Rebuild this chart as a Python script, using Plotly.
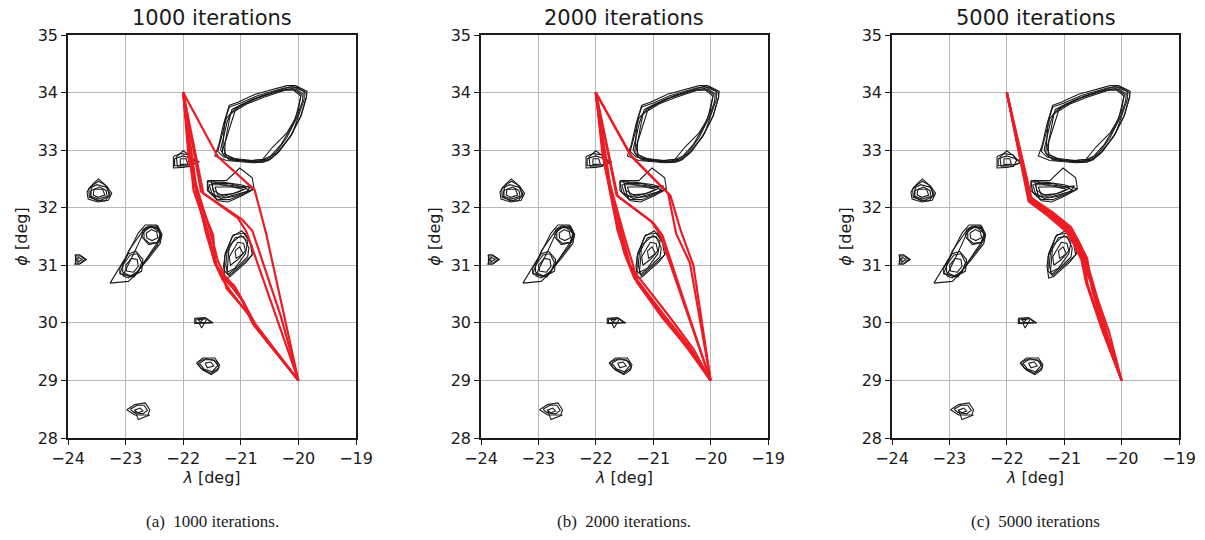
import plotly.graph_objects as go

# ---------------- data ----------------
panel_titles = ["1000 iterations", "2000 iterations", "5000 iterations"]
captions = ["(a)  1000 iterations.", "(b)  2000 iterations.", "(c)  5000 iterations"]
x_ticks = [-24, -23, -22, -21, -20, -19]
y_ticks = [28, 29, 30, 31, 32, 33, 34, 35]

# obstacle contours (lambda, phi); each obstacle has several contour loops
obs_big = [
    [(-21.15,33.71),(-20.97,33.80),(-20.65,33.94),(-20.13,34.10),(-20.02,34.09),(-19.87,34.00),(-19.86,33.92),(-19.96,33.59),(-20.13,33.25),(-20.36,32.96),(-20.54,32.81),(-20.77,32.79),(-21.18,32.84),(-21.29,32.90),(-21.35,33.01),(-21.29,33.25),(-21.24,33.48),(-21.15,33.71)],
    [(-21.10,33.68),(-20.90,33.80),(-20.60,33.92),(-20.18,34.06),(-20.05,34.06),(-19.92,33.98),(-19.93,33.85),(-20.02,33.58),(-20.20,33.22),(-20.40,32.95),(-20.56,32.84),(-20.80,32.82),(-21.15,32.86),(-21.26,32.92),(-21.30,33.05),(-21.22,33.30),(-21.10,33.68)],
    [(-21.20,33.75),(-21.00,33.82),(-20.70,33.95),(-20.25,34.08),(-20.10,34.10),(-19.90,34.02),(-19.90,33.88),(-19.99,33.62),(-20.10,33.30),(-20.33,32.98),(-20.50,32.83),(-20.75,32.80),(-21.20,32.83),(-21.32,32.95),(-21.30,33.20),(-21.28,33.50),(-21.20,33.75)],
    [(-21.20,33.78),(-21.05,33.83),(-20.75,33.97),(-20.20,34.12),(-20.05,34.12),(-19.85,34.02),(-19.86,33.93),(-19.95,33.60),(-20.15,33.22),(-20.38,32.93),(-20.60,32.79),(-20.80,32.78),(-21.25,32.82),(-21.45,32.90),(-21.38,33.10),(-21.30,33.45),(-21.20,33.78)],
    [(-21.25,33.55),(-21.10,33.72),(-20.80,33.88),(-20.40,34.02),(-20.10,34.07),(-19.95,33.97),(-20.05,33.55),(-20.20,33.30),(-20.45,33.05),(-20.62,32.84),(-20.90,32.81),(-21.30,32.88),(-21.40,32.98),(-21.25,33.55)],
    [(-21.18,33.62),(-21.02,33.76),(-20.72,33.90),(-20.30,34.04),(-20.08,34.04),(-19.96,33.94),(-20.00,33.70),(-20.12,33.40),(-20.30,33.10),(-20.48,32.90),(-20.70,32.80),(-21.05,32.83),(-21.28,32.93),(-21.27,33.15),(-21.18,33.62)],
]
obs_sq = [
    [(-22.17,32.89),(-22.05,32.94),(-21.90,32.92),(-21.83,32.82),(-21.88,32.72),(-22.00,32.70),(-22.17,32.69),(-22.17,32.89)],
    [(-22.12,32.88),(-22.00,32.99),(-21.88,32.90),(-21.77,32.78),(-21.90,32.73),(-22.10,32.72),(-22.12,32.88)],
    [(-22.05,32.85),(-21.95,32.85),(-21.92,32.76),(-22.05,32.75),(-22.05,32.85)],
    [(-22.15,32.85),(-22.00,32.90),(-21.85,32.85),(-21.72,32.80),(-21.85,32.75),(-22.15,32.73),(-22.15,32.85)],
]
obs_hex = [
    [(-23.62,32.36),(-23.47,32.46),(-23.33,32.38),(-23.24,32.25),(-23.30,32.13),(-23.48,32.10),(-23.65,32.15),(-23.67,32.27),(-23.62,32.36)],
    [(-23.58,32.40),(-23.47,32.50),(-23.36,32.40),(-23.27,32.24),(-23.35,32.12),(-23.50,32.12),(-23.62,32.20),(-23.58,32.40)],
    [(-23.55,32.32),(-23.40,32.32),(-23.36,32.22),(-23.48,32.18),(-23.56,32.22),(-23.55,32.32)],
    [(-23.64,32.33),(-23.50,32.40),(-23.32,32.35),(-23.28,32.20),(-23.45,32.12),(-23.63,32.18),(-23.64,32.33)],
    [(-23.60,32.30),(-23.45,32.36),(-23.34,32.30),(-23.32,32.20),(-23.47,32.15),(-23.60,32.20),(-23.60,32.30)],
]
obs_wedge = [
    [(-21.58,32.45),(-21.30,32.44),(-21.00,32.40),(-20.78,32.33),(-20.95,32.24),(-21.20,32.14),(-21.40,32.14),(-21.55,32.28),(-21.58,32.45)],
    [(-21.55,32.40),(-21.25,32.40),(-20.95,32.36),(-20.85,32.30),(-21.10,32.20),(-21.35,32.16),(-21.50,32.25),(-21.55,32.40)],
    [(-21.45,32.36),(-21.15,32.36),(-20.95,32.32),(-21.15,32.24),(-21.40,32.22),(-21.45,32.36)],
    [(-21.52,32.48),(-21.35,32.40),(-21.05,32.35),(-20.82,32.38),(-20.90,32.28),(-21.25,32.18),(-21.45,32.20),(-21.52,32.48)],
    [(-21.58,32.47),(-21.25,32.47),(-21.02,32.69),(-20.80,32.52),(-20.77,32.32),(-21.00,32.20),(-21.22,32.10),(-21.40,32.12),(-21.58,32.30),(-21.58,32.47)],
    [(-21.50,32.42),(-21.20,32.42),(-20.90,32.34),(-21.05,32.27),(-21.30,32.20),(-21.48,32.30),(-21.50,32.42)],
]
obs_long = [
    [(-23.27,30.69),(-22.95,30.72),(-22.87,30.80),(-22.60,31.12),(-22.40,31.38),(-22.37,31.53),(-22.46,31.70),(-22.66,31.70),(-22.78,31.56),(-22.99,31.15),(-23.27,30.69)],
    [(-22.68,31.58),(-22.58,31.66),(-22.45,31.64),(-22.39,31.52),(-22.45,31.40),(-22.58,31.38),(-22.68,31.46),(-22.68,31.58)],
    [(-22.64,31.56),(-22.55,31.62),(-22.46,31.58),(-22.44,31.48),(-22.54,31.43),(-22.63,31.47),(-22.64,31.56)],
    [(-22.70,31.62),(-22.60,31.68),(-22.44,31.68),(-22.37,31.54),(-22.42,31.40),(-22.60,31.36),(-22.72,31.50),(-22.70,31.62)],
    [(-23.05,31.00),(-22.92,31.18),(-22.80,31.20),(-22.72,31.05),(-22.78,30.88),(-22.92,30.82),(-23.05,30.88),(-23.05,31.00)],
    [(-23.00,31.00),(-22.90,31.12),(-22.80,31.10),(-22.78,30.98),(-22.86,30.88),(-22.98,30.90),(-23.00,31.00)],
    [(-23.10,30.95),(-22.95,31.20),(-22.82,31.24),(-22.70,31.10),(-22.72,30.90),(-22.90,30.80),(-23.10,30.86),(-23.10,30.95)],
    [(-23.10,30.85),(-22.95,31.25),(-22.70,31.60),(-22.55,31.68),(-22.40,31.56),(-22.45,31.35),(-22.72,31.00),(-22.85,30.80),(-23.10,30.85)],
    [(-23.05,30.82),(-22.85,31.22),(-22.65,31.65),(-22.45,31.66),(-22.38,31.50),(-22.55,31.25),(-22.78,30.90),(-22.95,30.78),(-23.05,30.82)],
]
obs_arrow = [
    [(-23.88,31.18),(-23.80,31.18),(-23.68,31.10),(-23.80,31.02),(-23.88,31.02),(-23.85,31.10),(-23.88,31.18)],
    [(-23.83,31.14),(-23.75,31.10),(-23.83,31.06),(-23.83,31.14)],
    [(-23.87,31.16),(-23.78,31.16),(-23.71,31.10),(-23.78,31.04),(-23.87,31.04),(-23.87,31.16)],
]
obs_kite = [
    [(-21.13,31.53),(-20.93,31.56),(-20.81,31.35),(-20.78,31.21),(-20.90,31.06),(-21.19,30.80),(-21.27,30.78),(-21.30,30.98),(-21.27,31.21),(-21.13,31.53)],
    [(-21.10,31.48),(-20.95,31.50),(-20.86,31.30),(-20.88,31.15),(-21.05,30.98),(-21.22,30.84),(-21.26,31.00),(-21.24,31.22),(-21.10,31.48)],
    [(-21.05,31.40),(-20.95,31.38),(-20.92,31.25),(-21.05,31.10),(-21.18,31.00),(-21.20,31.15),(-21.05,31.40)],
    [(-21.15,31.50),(-20.98,31.60),(-20.84,31.40),(-20.80,31.18),(-21.00,31.00),(-21.20,30.82),(-21.28,30.90),(-21.28,31.15),(-21.15,31.50)],
    [(-21.10,31.25),(-21.02,31.32),(-20.96,31.20),(-21.08,31.12),(-21.10,31.25)],
    [(-21.20,31.35),(-21.00,31.52),(-20.88,31.42),(-20.92,31.20),(-21.10,30.95),(-21.24,30.88),(-21.22,31.10),(-21.20,31.35)],
]
obs_flag = [
    [(-21.80,30.08),(-21.62,30.09),(-21.48,30.00),(-21.80,29.99),(-21.80,30.08)],
    [(-21.72,29.99),(-21.68,29.91),(-21.60,30.05)],
    [(-21.75,30.06),(-21.65,30.06),(-21.70,30.02),(-21.75,30.06)],
    [(-21.78,30.07),(-21.60,30.07),(-21.52,30.01),(-21.78,30.00),(-21.78,30.07)],
]
obs_gem = [
    [(-21.77,29.30),(-21.66,29.39),(-21.45,29.39),(-21.37,29.27),(-21.40,29.18),(-21.51,29.10),(-21.66,29.18),(-21.77,29.30)],
    [(-21.72,29.30),(-21.62,29.36),(-21.47,29.36),(-21.40,29.26),(-21.50,29.15),(-21.64,29.20),(-21.72,29.30)],
    [(-21.62,29.30),(-21.52,29.32),(-21.47,29.25),(-21.58,29.22),(-21.62,29.30)],
    [(-21.75,29.32),(-21.60,29.38),(-21.42,29.33),(-21.38,29.22),(-21.52,29.12),(-21.70,29.22),(-21.75,29.32)],
]
obs_low = [
    [(-22.98,28.49),(-22.84,28.58),(-22.66,28.61),(-22.58,28.49),(-22.61,28.40),(-22.84,28.40),(-22.98,28.49)],
    [(-22.92,28.50),(-22.80,28.57),(-22.68,28.57),(-22.62,28.48),(-22.70,28.42),(-22.85,28.44),(-22.92,28.50)],
    [(-22.85,28.48),(-22.75,28.52),(-22.70,28.47),(-22.78,28.44),(-22.85,28.48)],
    [(-22.84,28.48),(-22.78,28.32),(-22.58,28.40)],
]

# red trajectories, one list per panel
paths_1000 = [
    [(-22,34),(-21.40,32.89),(-20.76,32.31),(-20.56,31.55),(-20.00,29.00)],
    [(-22,34),(-21.69,32.28),(-21.05,31.82),(-20.90,31.58),(-20.00,29.00)],
    [(-22,34),(-21.65,32.25),(-20.98,31.80),(-20.80,31.60),(-20.30,30.10),(-20.00,29.00)],
    [(-22,34),(-21.85,32.60),(-21.60,31.55),(-21.45,31.04),(-21.31,30.78),(-21.16,30.63),(-20.96,30.37),(-20.76,29.94),(-20.00,29.00)],
    [(-22,34),(-21.80,32.40),(-21.55,31.50),(-21.42,31.00),(-21.30,30.80),(-21.25,30.60),(-20.88,30.17),(-20.70,29.88),(-20.00,29.00)],
    [(-22,34),(-21.90,32.80),(-21.52,31.55),(-21.40,31.08),(-21.28,30.82),(-21.10,30.62),(-20.92,30.30),(-20.72,29.92),(-20.00,29.00)],
    [(-22,34),(-21.75,32.20),(-21.48,31.52),(-21.44,31.02),(-21.32,30.76),(-21.20,30.58),(-20.85,30.12),(-20.65,29.85),(-20.00,29.00)],
    [(-22,34),(-21.82,32.30),(-21.58,31.60),(-21.46,31.06),(-21.30,30.79),(-21.12,30.65),(-20.98,30.40),(-20.80,30.00),(-20.00,29.00)],
]
paths_2000 = [
    [(-22,34),(-21.40,32.92),(-20.74,32.25),(-20.60,31.55),(-20.36,31.04),(-20.00,29.00)],
    [(-22,34),(-21.37,32.88),(-20.70,32.21),(-20.52,31.60),(-20.30,31.00),(-20.00,29.00)],
    [(-22,34),(-21.64,32.22),(-21.03,31.76),(-20.88,31.53),(-20.00,29.00)],
    [(-22,34),(-21.62,32.20),(-21.00,31.74),(-20.84,31.52),(-20.02,29.05),(-20.00,29.00)],
    [(-22,34),(-21.85,32.80),(-21.62,31.60),(-21.45,31.10),(-21.32,30.80),(-20.80,30.12),(-20.38,29.60),(-20.00,29.00)],
    [(-22,34),(-21.80,32.60),(-21.55,31.55),(-21.40,31.00),(-21.30,30.85),(-20.75,30.15),(-20.30,29.55),(-20.00,29.00)],
    [(-22,34),(-21.88,32.90),(-21.65,31.80),(-21.50,31.20),(-21.33,30.78),(-20.85,30.10),(-20.40,29.58),(-20.00,29.00)],
    [(-22,34),(-21.75,32.40),(-21.50,31.50),(-21.35,31.00),(-21.28,30.70),(-20.80,30.05),(-20.35,29.50),(-20.00,29.00)],
    [(-22,34),(-21.83,32.70),(-21.58,31.65),(-21.43,31.05),(-21.30,30.75),(-20.90,30.20),(-20.45,29.62),(-20.00,29.00)],
]
paths_5000 = [
    [(-22,34),(-21.63,32.28),(-21.60,32.14),(-21.25,31.88),(-20.93,31.62),(-20.82,31.41),(-20.67,31.12),(-20.59,30.66),(-20.30,29.79),(-20.00,29.00)],
    [(-22,34),(-21.62,32.30),(-21.58,32.16),(-21.22,31.90),(-20.90,31.63),(-20.78,31.42),(-20.62,31.10),(-20.50,30.70),(-20.25,29.80),(-20.00,29.00)],
    [(-22,34),(-21.64,32.26),(-21.61,32.12),(-21.28,31.86),(-20.95,31.60),(-20.80,31.38),(-20.66,31.15),(-20.56,30.80),(-20.35,30.05),(-20.00,29.00)],
    [(-22,34),(-21.63,32.27),(-21.59,32.15),(-21.24,31.89),(-20.92,31.62),(-20.76,31.35),(-20.68,31.05),(-20.45,30.50),(-20.22,29.85),(-20.00,29.00)],
    [(-22,34),(-21.61,32.29),(-21.57,32.17),(-21.20,31.92),(-20.88,31.66),(-20.74,31.40),(-20.60,31.12),(-20.52,30.60),(-20.28,29.75),(-20.00,29.00)],
    [(-22,34),(-21.65,32.25),(-21.62,32.11),(-21.27,31.85),(-20.96,31.58),(-20.84,31.38),(-20.70,31.10),(-20.62,30.70),(-20.33,29.85),(-20.00,29.00)],
]

# ---------------- build figure ----------------
obstacles = [obs_big, obs_sq, obs_hex, obs_wedge, obs_long, obs_arrow, obs_kite, obs_flag, obs_gem, obs_low]
all_paths = [paths_1000, paths_2000, paths_5000]


def flatten(loops):
    xs, ys = [], []
    for loop in loops:
        for (a, b) in loop:
            xs.append(a)
            ys.append(b)
        xs.append(None)
        ys.append(None)
    return xs, ys


obs_loops = [loop for ob in obstacles for loop in ob]
ox, oy = flatten(obs_loops)

x_domains = [(68/1205, 356/1205), (481/1205, 768/1205), (892/1205, 1179/1205)]
y_domain = (1 - 438/540, 1 - 35/540)

fig = go.Figure()
font_main = "DejaVu Sans"
ink = "#1a1a1a"
red = "#ED1C24"

layout = dict(width=1205, height=540, margin=dict(l=0, r=0, t=0, b=0, autoexpand=False),
              paper_bgcolor="white", plot_bgcolor="white", showlegend=False,
              font=dict(family=font_main, size=16, color=ink))
annotations = []
for i in range(3):
    sfx = "" if i == 0 else str(i + 1)
    xa, ya = "x" + sfx, "y" + sfx
    fig.add_trace(go.Scatter(x=ox, y=oy, mode="lines", xaxis=xa, yaxis=ya,
                             line=dict(color=ink, width=1.1), hoverinfo="skip"))
    px, py = flatten(all_paths[i])
    fig.add_trace(go.Scatter(x=px, y=py, mode="lines", xaxis=xa, yaxis=ya,
                             line=dict(color=red, width=2.2), hoverinfo="skip"))
    axis_common = dict(showline=True, mirror=True, linecolor=ink, linewidth=1.5,
                       ticks="outside", ticklen=5, tickwidth=1.2, tickcolor=ink,
                       showgrid=True, gridcolor="#b8b8b8", gridwidth=1, automargin=False,
                       zeroline=False, tickfont=dict(family=font_main, size=16, color=ink))
    layout["xaxis" + sfx] = dict(axis_common, domain=list(x_domains[i]), range=[-24, -19],
                                 tickvals=x_ticks, ticktext=[f"\u2212{abs(v)}" for v in x_ticks],
                                 anchor=ya,
                                 title=dict(text="<i>\u03bb</i> [deg]", standoff=4,
                                            font=dict(family=font_main, size=16, color=ink)))
    layout["yaxis" + sfx] = dict(axis_common, domain=list(y_domain), range=[28, 35],
                                 tickvals=y_ticks, anchor=xa,
                                 title=dict(text="<i>\u03d5</i> [deg]", standoff=6,
                                            font=dict(family=font_main, size=16, color=ink)))
    cx = (x_domains[i][0] + x_domains[i][1]) / 2
    annotations.append(dict(text=panel_titles[i], x=cx, y=y_domain[1], xref="paper", yref="paper",
                            xanchor="center", yanchor="bottom", yshift=3, showarrow=False,
                            font=dict(family=font_main, size=21, color=ink)))
    annotations.append(dict(text=captions[i].replace("  ", "\u00a0 "), x=cx, y=1 - 521/540,
                            xref="paper", yref="paper",
                            xanchor="center", yanchor="middle", showarrow=False,
                            font=dict(family="Liberation Serif", size=17, color=ink)))
layout["annotations"] = annotations
fig.update_layout(**layout)
fig.write_html("out.html", config={"displayModeBar": False},
               post_script="document.body.style.margin='0';document.body.style.overflow='hidden';")
